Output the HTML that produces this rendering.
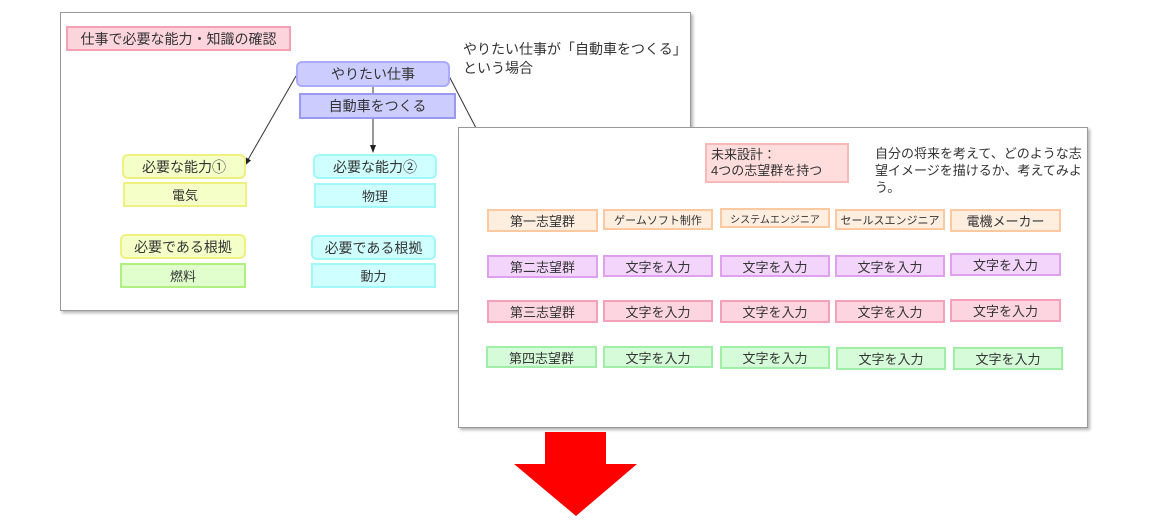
<!DOCTYPE html>
<html><head><meta charset="utf-8"><style>
body{margin:0;width:1151px;height:526px;background:#fff;position:relative;overflow:hidden;font-family:"Liberation Sans","Noto Sans CJK JP",sans-serif;color:#333}
.card{position:absolute;background:#fff;border:1px solid #999;box-shadow:2px 2px 3px rgba(0,0,0,.3)}
.b{position:absolute;box-sizing:border-box;display:flex;align-items:center;justify-content:center;font-size:13px;border:2px solid;white-space:nowrap}
.r{border-radius:6px}
.t{position:absolute;font-size:13px;line-height:17px}
.o{background:#fdeee0;border-color:#fcc8a0}
.p{background:#f3d5fb;border-color:#e0a0f0}
.k{background:#fcd5e0;border-color:#f4a0b8}
.g{background:#d5fbd8;border-color:#a0eea8}
</style></head><body>
<div class="card" style="left:60px;top:12px;width:629px;height:297px"></div>
<div class="b" style="left:66px;top:26px;width:225px;height:25px;background:#fcd5dc;border-color:#f4a0b4;font-size:14px">仕事で必要な能力・知識の確認</div>
<div class="t" style="left:463px;top:40px;font-size:14px;line-height:19px">やりたい仕事が「自動車をつくる」<br>という場合</div>
<svg style="position:absolute;left:0;top:0" width="1151" height="526">
<defs><marker id="a" markerWidth="8" markerHeight="8" refX="7" refY="4" orient="auto"><path d="M0,1 L8,4 L0,7z" fill="#222"/></marker></defs>
<line x1="373" y1="87" x2="373" y2="93" stroke="#333"/>
<line x1="373" y1="119" x2="373" y2="152" stroke="#333" marker-end="url(#a)"/>
<line x1="296" y1="76" x2="245" y2="165" stroke="#333" marker-end="url(#a)"/>
<line x1="449" y1="76" x2="476" y2="128" stroke="#333"/>
</svg>
<div class="b r" style="left:296px;top:61px;width:154px;height:26px;background:#ccccff;border-color:#aaaaff;font-size:14px">やりたい仕事</div>
<div class="b" style="left:299px;top:93px;width:157px;height:26px;background:#ccccff;border-color:#9999ee;font-size:14px">自動車をつくる</div>
<div class="b r" style="left:122px;top:154px;width:124px;height:25px;background:#f5ffc8;border-color:#eef080;font-size:14px">必要な能力①</div>
<div class="b" style="left:123px;top:182px;width:124px;height:25px;background:#f5ffc8;border-color:#eef080">電気</div>
<div class="b r" style="left:313px;top:154px;width:124px;height:25px;background:#d0ffff;border-color:#a0f8f8;font-size:14px">必要な能力②</div>
<div class="b" style="left:314px;top:183px;width:122px;height:25px;background:#d0ffff;border-color:#a0f8f8">物理</div>
<div class="b r" style="left:120px;top:234px;width:126px;height:25px;background:#f5ffc8;border-color:#eef080;font-size:14px">必要である根拠</div>
<div class="b" style="left:120px;top:263px;width:126px;height:25px;background:#e0ffcc;border-color:#b0f080">燃料</div>
<div class="b r" style="left:311px;top:235px;width:125px;height:25px;background:#d0ffff;border-color:#a0f8f8;font-size:14px">必要である根拠</div>
<div class="b" style="left:311px;top:263px;width:125px;height:25px;background:#d0ffff;border-color:#a0f8f8">動力</div>

<div class="card" style="left:458px;top:127px;width:628px;height:299px"></div>
<div class="b" style="left:705px;top:143px;width:144px;height:40px;background:#ffdddd;border-color:#f8b8b8;justify-content:flex-start;padding-left:4px;line-height:16px;white-space:normal">未来設計：<br>4つの志望群を持つ</div>
<div class="t" style="left:875px;top:145px;width:212px">自分の将来を考えて、どのような志望イメージを描けるか、考えてみよう。</div>

<div class="b o" style="left:487px;top:209px;width:111px;height:23px">第一志望群</div>
<div class="b o" style="left:603px;top:209px;width:110px;height:21px;font-size:11px">ゲームソフト制作</div>
<div class="b o" style="left:720px;top:208px;width:110px;height:20px;font-size:10px">システムエンジニア</div>
<div class="b o" style="left:835px;top:209px;width:110px;height:21px;font-size:11px">セールスエンジニア</div>
<div class="b o" style="left:950px;top:209px;width:111px;height:23px">電機メーカー</div>

<div class="b p" style="left:487px;top:255px;width:111px;height:23px">第二志望群</div>
<div class="b p" style="left:603px;top:255px;width:110px;height:22px">文字を入力</div>
<div class="b p" style="left:720px;top:255px;width:110px;height:22px">文字を入力</div>
<div class="b p" style="left:835px;top:255px;width:110px;height:22px">文字を入力</div>
<div class="b p" style="left:950px;top:253px;width:111px;height:23px">文字を入力</div>

<div class="b k" style="left:487px;top:300px;width:111px;height:23px">第三志望群</div>
<div class="b k" style="left:603px;top:300px;width:110px;height:22px">文字を入力</div>
<div class="b k" style="left:720px;top:300px;width:110px;height:23px">文字を入力</div>
<div class="b k" style="left:835px;top:300px;width:110px;height:23px">文字を入力</div>
<div class="b k" style="left:950px;top:299px;width:111px;height:23px">文字を入力</div>

<div class="b g" style="left:486px;top:346px;width:111px;height:22px">第四志望群</div>
<div class="b g" style="left:603px;top:346px;width:110px;height:22px">文字を入力</div>
<div class="b g" style="left:720px;top:346px;width:110px;height:23px">文字を入力</div>
<div class="b g" style="left:836px;top:347px;width:110px;height:23px">文字を入力</div>
<div class="b g" style="left:953px;top:347px;width:110px;height:23px">文字を入力</div>

<svg style="position:absolute;left:0;top:0" width="1151" height="526">
<path d="M545,432 L606,432 L606,464 L637,464 L576,516 L514,464 L545,464z" fill="#ff0000"/>
</svg>
</body></html>
